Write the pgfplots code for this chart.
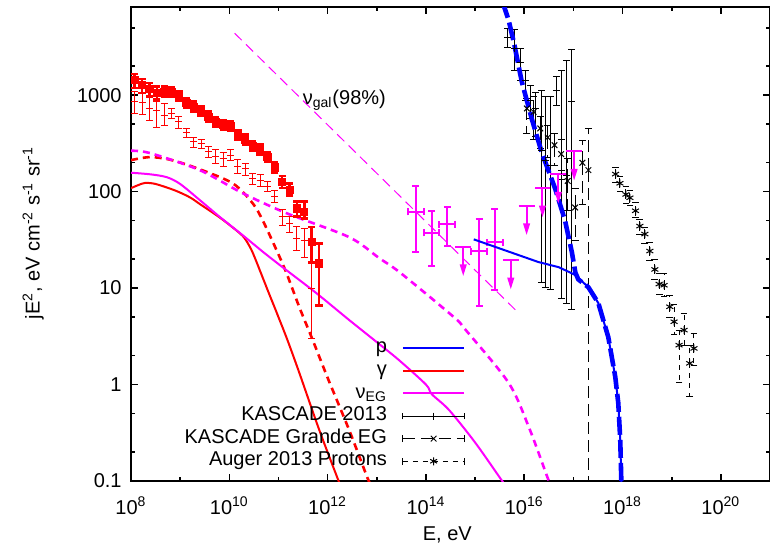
\documentclass[border=0pt]{standalone}
\usepackage{fontspec}
\setmainfont{Liberation Sans}
\usepackage{pgfplots}
\pgfplotsset{compat=1.18}
\definecolor{magenta}{RGB}{255,0,255}
\definecolor{red}{RGB}{255,0,0}
\definecolor{blue}{RGB}{0,0,255}

% upper limit: stem with a filled arrow head pointing down
\pgfdeclareplotmark{ulim}{%
  \pgfpathmoveto{\pgfqpoint{0pt}{0pt}}%
  \pgfpathlineto{\pgfqpoint{0pt}{-9.5pt}}%
  \pgfusepathqstroke
  \pgfpathmoveto{\pgfqpoint{-1.8pt}{-8.8pt}}%
  \pgfpathlineto{\pgfqpoint{1.8pt}{-8.8pt}}%
  \pgfpathlineto{\pgfqpoint{0pt}{-14.5pt}}%
  \pgfpathclose
  \pgfusepathqfill
}
% empty mark, for points that show only their error bars
\pgfdeclareplotmark{nothing}{}

\newcommand{\lab}{\fontsize{10}{12}\selectfont}

\begin{document}
\begin{tikzpicture}
\path[use as bounding box] (-65.5pt,-33.5pt) rectangle (319.5pt,240.5pt);
\begin{axis}[
  scale only axis, width=319.5pt, height=237pt,
  xmode=log, ymode=log,
  xmin=1e8, xmax=1e21, ymin=0.1, ymax=8200,
  xtick={1e8,1e10,1e12,1e14,1e16,1e18,1e20},
  xticklabels={10\textsuperscript{8},10\textsuperscript{10},10\textsuperscript{12},10\textsuperscript{14},10\textsuperscript{16},10\textsuperscript{18},10\textsuperscript{20}},
  minor xtick={1e9,1e11,1e13,1e15,1e17,1e19},
  ytick={0.1,1,10,100,1000},
  yticklabels={0.1,1,10,100,1000},
  minor ytick={0.2,0.5,2,5,20,50,200,500,2000,5000},
  tick align=inside,
  major tick length=3.75pt, minor tick length=2.2pt,
  tick style={black, line width=0.8pt},
  axis line style={line width=0.9pt},
  tick label style={font=\lab},
  xticklabel style={anchor=base, inner sep=0pt, yshift=-16.5pt},
  yticklabel style={anchor=east, inner sep=0pt, xshift=-4.5pt},
  label style={font=\lab},
  xlabel={E, eV},
  ylabel={jE\textsuperscript{2}, eV cm\textsuperscript{-2} s\textsuperscript{-1} sr\textsuperscript{-1}},
  every axis x label/.style={at={(axis description cs:0.495,-0.114)}, anchor=center},
  every axis y label/.style={at={(axis description cs:-0.153,0.523)}, rotate=90, anchor=center},
  legend image code/.code={\draw[#1] (0pt,0pt) -- (30.7pt,0pt);},
  legend cell align=right, legend plot pos=right,
  legend style={at={(0.5238,0.017)}, anchor=south east, draw=none, fill=none,
    inner sep=0pt, font=\lab, column sep=7.5pt, row sep=0pt,
    nodes={inner sep=0pt, text height=8pt, text depth=3.3pt}},
]

% model curves
\addplot[red, line width=1pt, smooth, forget plot] coordinates {
(1e8,108.6) (1.413e8,117) (1.923e8,123) (3.162e8,120) (7.80e8,103) (1.585e9,87.1)
(2.710e9,72.4) (5.888e9,55.5) (1e10,45.3) (1.862e10,34.8) (2.512e10,27.8) (3.162e10,21.8)
(5.715e10,10.2) (1e11,5.0) (1.524e11,2.89) (2.667e11,1.315) (6.776e11,0.337) (1.648e12,0.102) (2e12,0.079)};
\addplot[red, line width=1.3pt, smooth, dash pattern=on 3.5pt off 2.5pt, forget plot] coordinates {
(1e8,212) (2.427e8,228) (6.31e8,214) (2.178e9,175) (1.17e10,122) (2.972e10,76) (4.742e10,50.7)
(9.12e10,24.8) (1.455e11,14.3) (2.667e11,6.31) (4.898e11,2.95) (1e12,1.175) (2.748e12,0.337)
(6.368e12,0.11) (8e12,0.085)};
\addplot[magenta, line width=1pt, smooth, forget plot] coordinates {
(1e8,157) (2.512e8,151) (5.37e8,141) (1e9,120) (2.512e9,81.7) (6.31e9,55.0) (1.862e10,35.4)
(5.012e10,23.4) (1.205e11,16.5) (5.888e11,8.87) (2.754e12,4.66) (1e13,2.754) (2.818e13,1.795)
(1e14,1.0) (1.318e14,0.794) (2.951e14,0.545) (1e15,0.251) (3.467e15,0.102) (4e15,0.093)};
\addplot[magenta, line width=1.3pt, smooth, dash pattern=on 3.5pt off 2.5pt, forget plot] coordinates {
(1e8,265) (2.427e8,251) (2.506e9,167) (1.862e10,96.4) (1.455e11,59.8) (2.748e12,33.7)
(1.114e13,20.5) (3.069e13,14.3) (3.698e14,5.0) (6.471e14,3.67) (4.819e15,1.04)
(1.259e16,0.355) (3.119e16,0.102) (4e16,0.075)};
\addplot[magenta, line width=0.5pt, dash pattern=on 5pt off 3pt, forget plot] coordinates {
(1.282e10,4385) (7.69e15,5.51)};
\node[anchor=base west, inner sep=0pt, font=\lab] at (axis cs:3.07e11,807) {ν\textsubscript{gal}(98\%)};

% Fermi-LAT, thick
\addplot[red, only marks, mark=square*, mark size=1.8pt, forget plot,
  error bars/.cd, y dir=both, y explicit relative,
  error bar style={line width=1.3pt}, error mark options={rotate=90, mark size=1.8pt, line width=1.3pt}]
coordinates {
(1.1885e8,1430) += (0,0.154) -= (0,0.174)
(1.6788e8,1270) += (0,0.154) -= (0,0.174)
(2.3714e8,1154) += (0,0.154) -= (0,0.174)
(3.3497e8,1062) += (0,0.154) -= (0,0.174)
(4.7315e8,1087) += (0,0.127) -= (0,0.112)
(6.6834e8,1082) += (0,0.127) -= (0,0.112)
(9.4406e8,977) += (0,0.127) -= (0,0.112)
(1.3335e9,826) += (0,0.127) -= (0,0.112)
(1.8836e9,760) += (0,0.127) -= (0,0.112)
(2.6607e9,683) += (0,0.127) -= (0,0.112)
(3.7584e9,599) += (0,0.127) -= (0,0.112)
(5.3088e9,525) += (0,0.127) -= (0,0.112)
(7.4989e9,489) += (0,0.127) -= (0,0.112)
(1.0593e10,477) += (0,0.127) -= (0,0.112)
(1.4962e10,385) += (0,0.127) -= (0,0.112)
(2.1135e10,347) += (0,0.127) -= (0,0.112)
(2.9854e10,296) += (0,0.127) -= (0,0.112)
(4.2170e10,274) += (0,0.127) -= (0,0.112)
(5.9566e10,229) += (0,0.127) -= (0,0.112)
(8.4140e10,178) += (0,0.127) -= (0,0.112)
(1.1885e11,126) += (0,0.154) -= (0,0.133)
(1.6788e11,105) += (0,0.154) -= (0,0.133)
(2.3714e11,67) += (0,0.182) -= (0,0.174)
(3.3497e11,61.8) += (0,0.270) -= (0,0.154)
(4.7315e11,30.2) += (0,0.430) -= (0,0.380)
(6.6834e11,18.0) += (0,0.612) -= (0,0.633)
};

% Fermi-LAT, thin
\addplot[red, only marks, mark=+, mark size=1.75pt, line width=0.5pt, forget plot,
  error bars/.cd, y dir=both, y explicit relative,
  error bar style={line width=0.5pt}, error mark options={rotate=90, mark size=1.75pt, line width=0.5pt}]
coordinates {
(1.1885e8,852) += (0,0.270) -= (0,0.249)
(1.6788e8,832) += (0,0.240) -= (0,0.249)
(2.3714e8,728) += (0,0.364) -= (0,0.249)
(3.3497e8,699) += (0,0.332) -= (0,0.333)
(4.7315e8,620) += (0,0.332) -= (0,0.212)
(6.6834e8,646) += (0,0.127) -= (0,0.112)
(9.4406e8,529) += (0,0.127) -= (0,0.154)
(1.3335e9,407) += (0,0.100) -= (0,0.112)
(1.8836e9,328) += (0,0.100) -= (0,0.133)
(2.6607e9,316) += (0,0.100) -= (0,0.112)
(3.7584e9,258) += (0,0.127) -= (0,0.133)
(5.3088e9,229) += (0,0.182) -= (0,0.154)
(7.4989e9,221) += (0,0.154) -= (0,0.174)
(1.0593e10,239) += (0,0.154) -= (0,0.112)
(1.4962e10,181) += (0,0.182) -= (0,0.154)
(2.1135e10,174) += (0,0.127) -= (0,0.154)
(2.9854e10,137) += (0,0.127) -= (0,0.133)
(4.2170e10,129) += (0,0.154) -= (0,0.133)
(5.9566e10,112) += (0,0.127) -= (0,0.112)
(8.4140e10,89.8) += (0,0.154) -= (0,0.133)
(1.1885e11,54.8) += (0,0.182) -= (0,0.194)
(1.6788e11,46.8) += (0,0.182) -= (0,0.194)
(2.3714e11,32.7) += (0,0.332) -= (0,0.249)
(3.3497e11,31.4) += (0,0.332) -= (0,0.333)
(4.7315e11,9.93) += (0,0.816) -= (0,0.697)
};

% KASCADE 2013
\addplot[black, only marks, mark=+, mark size=1.75pt, line width=0.5pt, forget plot,
  error bars/.cd, y dir=both, y explicit relative,
  error bar style={line width=0.5pt}, error mark options={rotate=90, mark size=1.7pt, line width=0.5pt}]
coordinates {
(4.60e15,3990) += (0,0.240) -= (0,0.212)
(6.38e15,3070) += (0,0.573) -= (0,0.408)
(8.43e15,2198) += (0,0.397) -= (0,0.349)
(1.067e16,1430) += (0,0.270) -= (0,0.380)
(1.346e16,887) += (0,0.430) -= (0,0.349)
(1.698e16,724) += (0,0.465) -= (0,0.487)
(2.249e16,269) += (0,3.19) -= (0,0.958)
(2.710e16,212) += (0,3.60) -= (0,0.952)
(3.420e16,188) += (0,4.19) -= (0,0.949)
(4.529e16,1127) += (0,0.397) -= (0,0.301)
(5.715e16,167) += (0,9.87) -= (0,0.953)
(7.211e16,148) += (0,14.55) -= (0,0.953)
(9.12e16,857) += (0,2.46) -= (0,0.993)
};

% KASCADE Grande EG
\addplot[black, only marks, mark=x, mark size=2pt, line width=0.5pt, forget plot,
  error bars/.cd, y dir=both, y explicit relative,
  error bar style={line width=0.5pt, dash pattern=on 6pt off 3pt},
  error mark options={solid, rotate=90, mark size=1.7pt, line width=0.5pt}]
coordinates {
(1.132e16,728) += (0,0.270) -= (0,0.449)
(1.549e16,671) += (0,0.430) -= (0,0.487)
(2.118e16,452) += (0,0.332) -= (0,0.380)
(3.020e16,365) += (0,0.332) -= (0,0.380)
(4.125e16,303) += (0,0.332) -= (0,0.380)
(5.636e16,245) += (0,0.430) -= (0,0.449)
(7.674e16,129) += (0,0.690) -= (0,0.511)
(1.084e17,68.5) += (0,0.573) -= (0,0.545)
(1.524e17,199) += (0,0.718) -= (0,0.633)
(2.018e17,167) += (0,1.705) -= (0,0.9999)
};

% Auger 2013 protons
\addplot[black, only marks, mark=asterisk, mark size=2pt, line width=0.5pt, forget plot,
  error bars/.cd, y dir=both, y explicit relative,
  error bar style={line width=0.5pt, dash pattern=on 2.5pt off 2.5pt},
  error mark options={solid, rotate=90, mark size=1.7pt, line width=0.5pt}]
coordinates {
(7.21e17,152) += (0,0.182) -= (0,0.174)
(8.85e17,122) += (0,0.182) -= (0,0.174)
(1.172e18,93.5) += (0,0.210) -= (0,0.194)
(1.413e18,86.3) += (0,0.182) -= (0,0.174)
(1.834e18,63.3) += (0,0.210) -= (0,0.154)
(2.253e18,43.9) += (0,0.182) -= (0,0.174)
(2.844e18,36.3) += (0,0.182) -= (0,0.194)
(3.591e18,24.2) += (0,0.240) -= (0,0.194)
(4.539e18,15.6) += (0,0.270) -= (0,0.212)
(5.546e18,11.0) += (0,0.300) -= (0,0.212)
(7.0e18,10.7) += (0,0.332) -= (0,0.231)
(9.14e18,6.40) += (0,0.300) -= (0,0.231)
(1.117e19,4.48) += (0,0.500) -= (0,0.267)
(1.41e19,2.56) += (0,0.430) -= (0,0.586)
(1.782e19,3.67) += (0,0.500) -= (0,0.301)
(2.323e19,1.66) += (0,0.537) -= (0,0.545)
(2.84e19,2.37) += (0,0.430) -= (0,0.333)
};

% IceCube points
\addplot[magenta, only marks, mark=nothing, forget plot,
  error bars/.cd, x dir=both, x explicit relative, y dir=both, y explicit relative,
  error bar style={line width=1pt}, error mark options={rotate=90, mark size=1.75pt, line width=1pt}]
coordinates {
(6.194e13,61.8) += (0.449,0.846) -= (0.310,0.615)
(1.300e14,37.4) += (0.449,0.690) -= (0.310,0.545)
(2.735e14,46.0) += (0.449,0.489) -= (0.310,0.404)
(1.205e15,24.2) += (0.449,1.131) -= (0.310,0.731)
(2.535e15,29.8) += (0.449,1.198) -= (0.310,0.680)
};
% IceCube upper limits
\addplot[magenta, fill=magenta, only marks, mark=ulim, line width=1pt, forget plot,
  error bars/.cd, x dir=both, x explicit relative, error mark=none,
  error bar style={line width=1pt}]
coordinates {
(5.741e14,26.8) += (0.449,0) -= (0.310,0)
(5.321e15,19.5) += (0.449,0) -= (0.310,0)
(1.117e16,71.3) += (0.449,0) -= (0.310,0)
(2.350e16,109) += (0.449,0) -= (0.310,0)
(4.932e16,151) += (0.449,0) -= (0.310,0)
(1.035e17,262) += (0.449,0) -= (0.310,0)
};

% protons
\addplot[blue, line width=1pt, forget plot] coordinates {
(9.397e14,32.0) (1.954e16,18.6) (4.977e16,16.5) (9.12e16,14.3) (1.099e17,13.6) (2.018e17,10.2)
(3.214e17,7.0) (5.129e17,3.10) (7.112e17,1.20) (8.185e17,0.643) (8.974e17,0.27) (9.44e17,0.10) (9.6e17,0.08)};
\addplot[blue, line width=2.3pt, dash pattern=on 9pt off 2.5pt, forget plot] coordinates {
(3.548e15,9550) (4.819e15,5984) (6.31e15,3311) (8.913e15,1380) (1.413e16,575) (2.291e16,251)
(4.266e16,107) (6.761e16,50.1) (9.333e16,23.4) (1.096e17,14.5) (1.259e17,12.3) (2.018e17,10.2)
(3.214e17,7.0) (5.129e17,3.10) (7.112e17,1.20) (8.185e17,0.643) (8.974e17,0.27) (9.44e17,0.10) (9.6e17,0.08)};

% legend
\addlegendimage{blue, line width=1pt}
\addlegendentry{p}
\addlegendimage{red, line width=1pt}
\addlegendentry{γ}
\addlegendimage{magenta, line width=1pt}
\addlegendentry{ν\textsubscript{EG}}
\addlegendimage{legend image code/.code={
  \draw[black, line width=0.5pt] (0pt,0pt) -- (30.7pt,0pt) (0pt,-1.7pt) -- (0pt,1.7pt) (30.7pt,-1.7pt) -- (30.7pt,1.7pt);
  \draw[black, line width=0.5pt] plot[mark=+, mark size=1.75pt] coordinates {(15.35pt,0pt)};}}
\addlegendentry{KASCADE 2013}
\addlegendimage{legend image code/.code={
  \draw[black, line width=0.5pt, dash pattern=on 6pt off 3pt] (0pt,0pt) -- (30.7pt,0pt);
  \draw[black, line width=0.5pt] (0pt,-1.7pt) -- (0pt,1.7pt) (30.7pt,-1.7pt) -- (30.7pt,1.7pt);
  \draw[black, line width=0.5pt] plot[mark=x, mark size=2pt] coordinates {(15.35pt,0pt)};}}
\addlegendentry{KASCADE Grande EG}
\addlegendimage{legend image code/.code={
  \draw[black, line width=0.5pt, dash pattern=on 2.5pt off 2.5pt] (0pt,0pt) -- (30.7pt,0pt);
  \draw[black, line width=0.5pt] (0pt,-1.7pt) -- (0pt,1.7pt) (30.7pt,-1.7pt) -- (30.7pt,1.7pt);
  \draw[black, line width=0.5pt] plot[mark=asterisk, mark size=2pt] coordinates {(15.35pt,0pt)};}}
\addlegendentry{Auger 2013 Protons}
\end{axis}
\end{tikzpicture}
\end{document}
